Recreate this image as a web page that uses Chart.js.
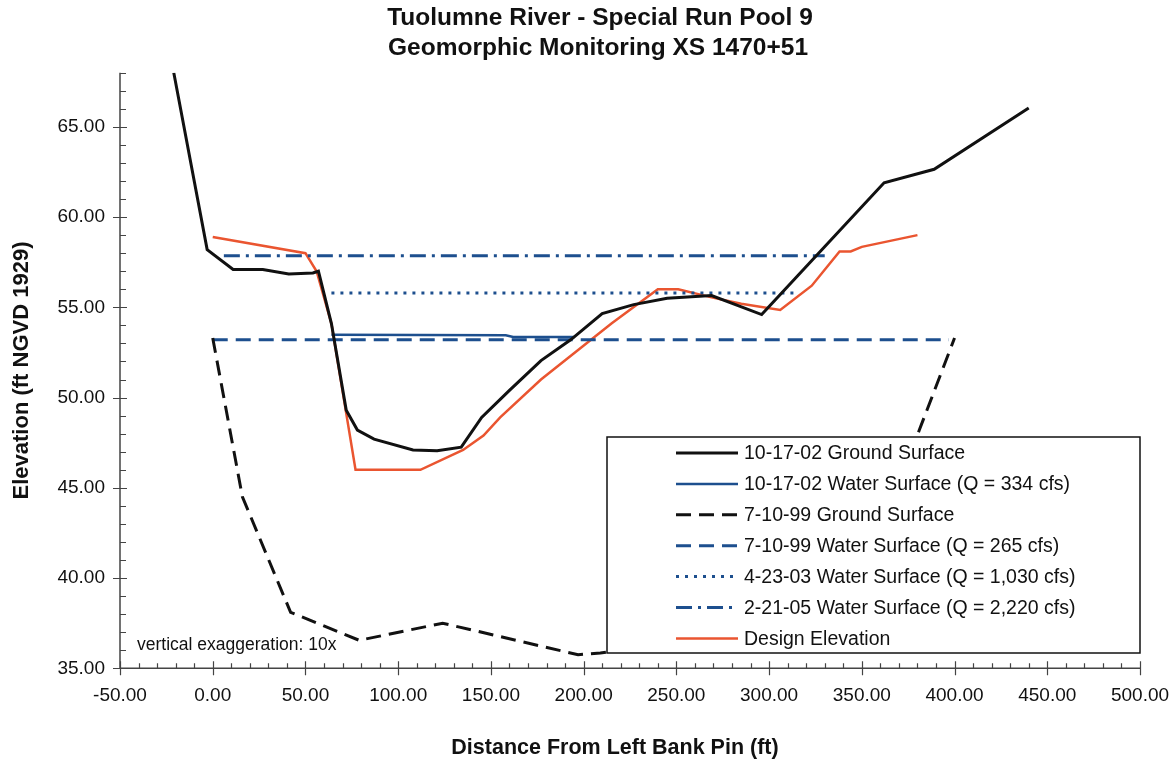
<!DOCTYPE html>
<html>
<head>
<meta charset="utf-8">
<title>Tuolumne River - Special Run Pool 9</title>
<script src="https://cdn.jsdelivr.net/npm/chart.js@4.4.1/dist/chart.umd.min.js"></script>
<style>
  html, body { margin: 0; padding: 0; background: #fff; }
  #wrap { width: 1173px; height: 765px; position: relative; }
</style>
</head>
<body>
<div id="wrap"><canvas id="chartXS"></canvas></div>
<script>
// station = ft from left bank pin, elevation = ft NGVD 1929
const ground02X = [-21, -3, 11, 27, 41, 54, 57, 64, 72, 78, 87, 108, 121, 134, 145, 160, 177, 193, 210, 227, 245, 269, 296, 362, 389, 440];
const ground02Y = [68.0, 58.2, 57.1, 57.1, 56.85, 56.9, 57.0, 54.1, 49.3, 48.2, 47.7, 47.1, 47.05, 47.25, 48.9, 50.4, 52.05, 53.2, 54.65, 55.15, 55.5, 55.65, 54.6, 61.9, 62.65, 66.05];

const water02X = [64, 158, 162, 195];
const water02Y = [53.48, 53.45, 53.36, 53.36];

const ground99X = [0, 16, 42, 79, 124, 197, 209, 250, 320, 360, 381, 400];
const ground99Y = [53.3, 44.5, 38.1, 36.55, 37.5, 35.75, 35.85, 36.3, 38.0, 42.5, 48.2, 53.3];

const water99X = [0, 397];
const water99Y = [53.2, 53.2];

const water03X = [64, 315];
const water03Y = [55.8, 55.8];

const water05X = [6, 330];
const water05Y = [57.86, 57.86];

const designX = [0, 50, 56, 64, 77, 112, 135, 146, 155, 177, 215, 240, 251, 269, 285, 306, 323, 338, 344, 350, 380];
const designY = [58.9, 58.0, 57.0, 54.1, 46.0, 46.0, 47.1, 47.9, 48.9, 51.0, 54.1, 56.0, 56.0, 55.55, 55.2, 54.85, 56.2, 58.1, 58.1, 58.35, 59.0];

const titleLines = ['Tuolumne River - Special Run Pool 9', 'Geomorphic Monitoring XS 1470+51'];
const xTitle = 'Distance From Left Bank Pin (ft)';
const yTitle = 'Elevation (ft NGVD 1929)';
const note = 'vertical exaggeration: 10x';

const FONT = '"Liberation Sans", Arial, sans-serif';
const BLUE = '#1d4f8e';
const RED = '#ea5530';
const BLACK = '#111111';

function pts(xs, ys) {
  return xs.map((v, i) => ({ x: v, y: ys[i] }));
}

function series(label, xs, ys, color, width, dash) {
  return {
    label: label,
    data: pts(xs, ys),
    borderColor: color,
    backgroundColor: color,
    borderWidth: width,
    borderDash: dash,
    pointRadius: 0,
    tension: 0,
    fill: false
  };
}

// legend box, tick marks, titles and note drawn on top
const decor = {
  id: 'decor',
  afterDatasetsDraw(chart) {
    const { ctx, chartArea: a, scales: { x, y } } = chart;
    ctx.save();

    ctx.strokeStyle = '#444';
    ctx.lineWidth = 1.5;
    ctx.beginPath();
    ctx.moveTo(a.left, a.top);
    ctx.lineTo(a.left, a.bottom);
    ctx.lineTo(a.right, a.bottom);
    ctx.stroke();

    ctx.lineWidth = 1.2;
    ctx.beginPath();
    for (let v = -50; v <= 500; v += 10) {
      const px = Math.round(x.getPixelForValue(v)) + 0.5;
      const major = v % 50 === 0;
      ctx.moveTo(px, a.bottom + (major ? 7 : 0));
      ctx.lineTo(px, a.bottom - (major ? 7 : 5));
    }
    for (let v = 35; v <= 68; v += 1) {
      const py = Math.round(y.getPixelForValue(v)) + 0.5;
      const major = v % 5 === 0;
      ctx.moveTo(a.left - (major ? 7 : 0), py);
      ctx.lineTo(a.left + (major ? 7 : 6), py);
    }
    ctx.stroke();

    // note
    ctx.fillStyle = BLACK;
    ctx.font = '17.5px ' + FONT;
    ctx.textBaseline = 'middle';
    ctx.textAlign = 'left';
    ctx.fillText(note, 137, 645);

    // legend
    const box = { left: 607, top: 437, right: 1140, bottom: 653 };
    ctx.fillStyle = '#fff';
    ctx.fillRect(box.left, box.top, box.right - box.left, box.bottom - box.top);
    ctx.strokeStyle = '#111';
    ctx.lineWidth = 1.5;
    ctx.strokeRect(box.left, box.top, box.right - box.left, box.bottom - box.top);

    ctx.font = '19.5px ' + FONT;
    chart.data.datasets.forEach((ds, i) => {
      const cy = 453 + i * 30.9;
      ctx.strokeStyle = ds.borderColor;
      ctx.lineWidth = ds.borderWidth;
      ctx.setLineDash(ds.borderDash || []);
      ctx.beginPath();
      ctx.moveTo(676, cy);
      ctx.lineTo(738, cy);
      ctx.stroke();
      ctx.setLineDash([]);
      ctx.fillStyle = BLACK;
      ctx.fillText(ds.label, 744, cy + 1);
    });
    ctx.restore();
  },
  afterDraw(chart) {
    const { ctx } = chart;
    ctx.save();
    ctx.fillStyle = BLACK;
    ctx.textAlign = 'center';
    ctx.textBaseline = 'alphabetic';
    ctx.font = 'bold 24.5px ' + FONT;
    ctx.fillText(titleLines[0], 600, 25);
    ctx.fillText(titleLines[1], 598, 55);
    ctx.font = 'bold 21.5px ' + FONT;
    ctx.textBaseline = 'middle';
    ctx.fillText(xTitle, 615, 748);
    ctx.restore();
  }
};

const ctx = document.getElementById('chartXS');

new Chart(ctx, {
  type: 'line',
  data: {
    datasets: [
      series('10-17-02 Ground Surface', ground02X, ground02Y, BLACK, 3, []),
      series('10-17-02 Water Surface (Q = 334 cfs)', water02X, water02Y, BLUE, 2.5, []),
      series('7-10-99 Ground Surface', ground99X, ground99Y, BLACK, 3, [15, 8]),
      series('7-10-99 Water Surface (Q = 265 cfs)', water99X, water99Y, BLUE, 3, [15, 8]),
      series('4-23-03 Water Surface (Q = 1,030 cfs)', water03X, water03Y, BLUE, 3, [3, 6]),
      series('2-21-05 Water Surface (Q = 2,220 cfs)', water05X, water05Y, BLUE, 3, [16, 6, 3, 6]),
      series('Design Elevation', designX, designY, RED, 2.5, [])
    ]
  },
  options: {
    responsive: true,
    maintainAspectRatio: false,
    animation: false,
    devicePixelRatio: 1,
    layout: { padding: { top: 72.7, right: 33, bottom: 0, left: 0 } },
    plugins: {
      legend: { display: false },
      title: { display: false },
      tooltip: { enabled: false }
    },
    scales: {
      x: {
        type: 'linear',
        min: -50,
        max: 500,
        afterFit: (scale) => {
          scale.height = 96.7;
          scale.paddingLeft = 0;
          scale.paddingRight = 0;
        },
        grid: { display: false, drawTicks: false },
        border: { display: false },
        ticks: {
          stepSize: 50,
          autoSkip: false,
          maxRotation: 0,
          padding: 16,
          color: BLACK,
          font: { family: FONT, size: 19 },
          callback: (v) => v.toFixed(2)
        }
      },
      y: {
        type: 'linear',
        min: 35,
        max: 68,
        afterFit: (scale) => {
          scale.width = 120;
          scale.paddingTop = 0;
          scale.paddingBottom = 0;
        },
        grid: { display: false, drawTicks: false },
        border: { display: false },
        title: {
          display: true,
          text: yTitle,
          color: BLACK,
          font: { family: FONT, size: 22, weight: 'bold' },
          padding: { top: 9, bottom: 0 }
        },
        ticks: {
          stepSize: 5,
          includeBounds: false,
          padding: 15,
          color: BLACK,
          font: { family: FONT, size: 19 },
          callback: (v) => v.toFixed(2)
        }
      }
    }
  },
  plugins: [decor]
});
</script>
</body>
</html>
